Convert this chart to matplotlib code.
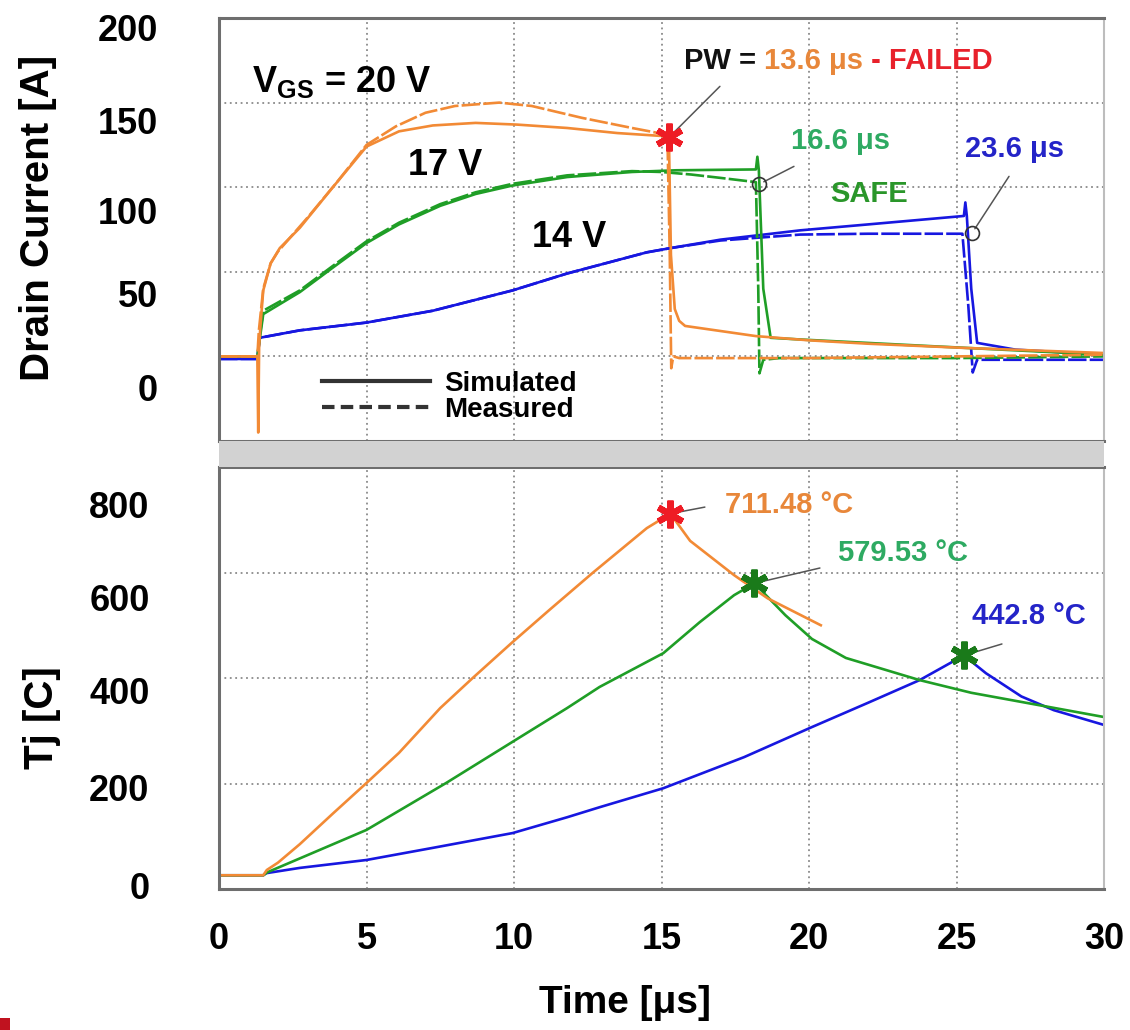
import matplotlib
matplotlib.use('Agg')
import matplotlib.pyplot as plt
from matplotlib.lines import Line2D
from matplotlib.patches import Rectangle

plt.rcParams['font.family'] = ['Liberation Sans', 'DejaVu Sans']
plt.rcParams['font.weight'] = 'bold'
plt.rcParams['axes.labelweight'] = 'bold'
plt.rcParams['mathtext.fontset'] = 'custom'
plt.rcParams['mathtext.rm'] = 'Liberation Sans:bold'
plt.rcParams['mathtext.bf'] = 'Liberation Sans:bold'
plt.rcParams['mathtext.it'] = 'Liberation Sans:bold'

# ---- drain current [A] vs time [us] ----
# VGS = 20 V (orange)
t_sim_20 = [0, 1.30, 1.33, 1.36, 1.40, 1.50, 1.75, 2.06, 2.74, 3.86, 5.0, 6.1, 7.25, 8.7, 10.1, 11.8,
            13.5, 15.25, 15.32, 15.45, 15.6, 15.8, 17.0, 18.2, 20.0, 22.0, 25.3, 30.0]
id_sim_20 = [0, 0, -45, 5, 17, 39, 55, 64, 76, 100, 124, 133, 136.5, 138, 137, 135,
             132, 130, 60, 28, 21, 18, 15, 12, 9.5, 7.5, 5, 2]
t_meas_20 = [0, 1.30, 1.35, 1.5, 1.75, 2.0, 3.0, 4.0, 5.0, 6.0, 7.0, 8.0, 9.5, 10.6, 12.3, 14.0,
             15.2, 15.28, 15.33, 15.4, 15.6, 20.0, 25.0, 30.0]
id_meas_20 = [0, 0, 15, 40, 55, 62, 82, 103, 125, 136, 144, 148, 150, 148, 141, 135,
              131, 60, -7, 0, -1, -1, 0, 1]

# VGS = 17 V (green)
t_sim_17 = [0, 1.30, 1.38, 1.5, 2.74, 3.9, 5.0, 6.1, 7.5, 8.7, 9.95, 11.8, 14.0, 15.5, 18.2, 18.25,
            18.3, 18.45, 18.7, 19.7, 24.2, 30.0]
id_sim_17 = [0, 0, 10, 25, 38, 53, 67, 78, 89, 96, 101, 106, 109, 110, 110.5, 118,
             110, 40, 11, 10, 6, 1]
t_meas_17 = [0, 1.30, 1.38, 1.5, 2.74, 3.9, 5.0, 6.1, 7.5, 8.7, 9.95, 11.8, 14.0, 15.0, 16.0, 17.0,
             18.2, 18.28, 18.32, 18.45, 19.0, 25.0, 30.0]
id_meas_17 = [0, 0, 12, 27, 39, 54, 68, 79, 90, 97, 102, 107, 109.5, 109, 107.5, 105.5,
              103, 40, -10, -2, -1, -1, 0]

# VGS = 14 V (blue)
t_sim_14 = [0, 1.30, 1.38, 2.74, 5.0, 7.25, 9.95, 11.8, 14.5, 15.3, 17.0, 19.7, 22.0, 25.25, 25.3,
            25.35, 25.5, 25.7, 27.0, 30.0]
id_sim_14 = [-1.5, -1.5, 11, 15.4, 20, 27, 39, 49, 61.5, 64, 69, 74.5, 78, 83, 91,
             83, 40, 8, 4, 1]
t_meas_14 = [0, 1.30, 1.38, 2.74, 5.0, 7.25, 9.95, 11.8, 14.5, 15.3, 17.0, 19.7, 22.0, 25.2, 25.4,
             25.55, 25.7, 30.0]
id_meas_14 = [-1.5, -1.5, 11, 15.4, 20, 27, 39, 49, 61.5, 64, 68.5, 72, 72.5, 72.5, 30,
              -9.5, -2, -2]

# end-of-pulse markers
pw_t = [15.25, 18.3, 25.52]
pw_id = [129.4, 101.7, 72.7]

# ---- junction temperature [C] vs time [us] ----
t_tj_20 = [0, 1.5, 1.62, 2.0, 2.74, 3.86, 5.0, 6.1, 7.5, 8.6, 9.95, 11.2, 12.66, 14.5, 15.3,
           15.97, 17.46, 18.6, 20.4]
tj_20 = [26, 26, 36, 50, 85, 143, 201, 258, 343, 400, 468, 529, 599, 684, 711.48,
         660, 595, 551, 500]
t_tj_17 = [0, 1.5, 1.65, 2.74, 5.0, 7.7, 9.95, 11.8, 12.9, 15.06, 16.3, 17.46, 18.15, 19.2, 20.1,
           21.25, 23.75, 25.5, 27.75, 30.0]
tj_17 = [26, 26, 32, 58, 112, 201, 279, 343, 383, 447, 506, 557, 579.53, 519, 474,
         438, 396, 372, 349, 326]
t_tj_14 = [0, 1.5, 1.6, 2.74, 5.0, 7.25, 9.95, 11.8, 12.9, 15.06, 17.8, 20.1, 22.0, 23.75, 25.25,
           26.0, 27.2, 28.3, 30.0]
tj_14 = [26, 26, 30, 40, 55, 78, 106, 136, 155, 191, 250, 307, 353, 396, 442.8,
         409, 365, 339, 311]

peak_t = [15.3, 18.15, 25.25]
peak_tj = [711.48, 579.53, 442.8]

ORANGE = '#F28A35'
GREEN = '#1F9E26'
BLUE = '#1717E0'

fig = plt.figure(figsize=(11.3, 10.3), dpi=100)
W, H = 1130, 1030
ax1 = fig.add_axes([219 / W, 1 - 441 / H, 885 / W, 423 / H])
ax2 = fig.add_axes([219 / W, 1 - 889 / H, 885 / W, 422 / H])

# grey separator between the two panels + small red corner mark
fig.patches.append(Rectangle((219 / W, 1 - 467 / H), 885 / W, 26 / H, transform=fig.transFigure,
                             facecolor='#d2d2d2', edgecolor='none', zorder=0))
fig.patches.append(Rectangle((0, 0), 10 / W, 12 / H, transform=fig.transFigure,
                             facecolor='#c0121f', edgecolor='none'))


def style(ax):
    ax.set_xlim(0, 30)
    ax.set_xticks([0, 5, 10, 15, 20, 25, 30])
    ax.grid(axis='x', which='major', color='#8a8a8a', linestyle=(0, (1, 2)), linewidth=1.3)
    ax.grid(axis='y', which='minor', color='#8a8a8a', linestyle=(0, (1, 2)), linewidth=1.3)
    ax.tick_params(which='both', length=0, labelsize=26)
    for s in ['left', 'top', 'bottom']:
        ax.spines[s].set_color('#6e6e6e')
        ax.spines[s].set_linewidth(2.2)
    ax.spines['right'].set_color('#bdbdbd')
    ax.spines['right'].set_linewidth(1.5)


# ---------------- top panel ----------------
style(ax1)
ax1.set_ylim(-50, 200)
ax1.set_yticks([0, 50, 100, 150], minor=True)
ax1.set_yticks([-18.3, 37.2, 86.3, 139.5, 194.4])
ax1.set_yticklabels(['0', '50', '100', '150', '200'])
ax1.tick_params(axis='y', pad=44)
ax1.tick_params(axis='x', labelbottom=False)

meas_ls = (0, (7, 1.2))
ax1.plot(t_meas_14, id_meas_14, color=BLUE, lw=1.9, ls=meas_ls)
ax1.plot(t_sim_14, id_sim_14, color=BLUE, lw=1.9)
ax1.plot(t_meas_17, id_meas_17, color=GREEN, lw=1.9, ls=meas_ls)
ax1.plot(t_sim_17, id_sim_17, color=GREEN, lw=1.9)
ax1.plot(t_meas_20, id_meas_20, color=ORANGE, lw=1.9, ls=meas_ls)
ax1.plot(t_sim_20, id_sim_20, color=ORANGE, lw=1.9)

ax1.plot(pw_t[0], pw_id[0], marker=(6, 2, 0), ms=20, mew=4.5, color='#EE1C25', zorder=5)
ax1.plot(pw_t[1:], pw_id[1:], 'o', ms=10, mfc='none', mec='#333333', mew=1.2, zorder=5)

ax1.set_ylabel('Drain Current [A]', fontsize=29)
ax1.yaxis.set_label_coords(-0.183, 0.527)

ax1.text(1.12, 156, r'V$_{\mathbf{GS}}$ = 20 V', fontsize=26, va='baseline')
ax1.text(6.4, 107, '17 V', fontsize=26, va='baseline')
ax1.text(10.6, 64.4, '14 V', fontsize=26, va='baseline')

t1 = ax1.text(15.76, 169.6, 'PW = ', fontsize=21, va='baseline', color='#111111')
t2 = ax1.annotate('13.6 μs', xy=(1, 0), xycoords=t1, va='bottom', fontsize=21, color='#E8873A')
ax1.annotate(' - FAILED', xy=(1, 0), xycoords=t2, va='bottom', fontsize=21, color='#E8212B')
ax1.text(19.39, 122.3, '16.6 μs', fontsize=21, va='baseline', color='#2EAA62')
ax1.text(20.71, 91, 'SAFE', fontsize=21, va='baseline', color='#2A962A')
ax1.text(25.29, 117.6, '23.6 μs', fontsize=21, va='baseline', color='#2424C8')

pw_ends = [(16.98, 159.6), (19.49, 112.3), (26.78, 106.4)]
for x, y, end in zip(pw_t, pw_id, pw_ends):
    ax1.annotate('', xy=(x, y), xytext=end,
                 arrowprops=dict(arrowstyle='-', color='#555555', lw=1.1, shrinkA=0, shrinkB=4))

handles = [Line2D([], [], color='#333333', lw=3),
           Line2D([], [], color='#333333', lw=3, ls=(0, (3, 1.5)))]
ax1.legend(handles, ['Simulated', 'Measured'], loc='upper left', bbox_to_anchor=(0.116, 0.165),
           frameon=False, fontsize=20, handlelength=3.9, handletextpad=0.5,
           labelspacing=0.0, borderpad=0, borderaxespad=0)

# ---------------- bottom panel ----------------
style(ax2)
ax2.set_ylim(0, 800)
ax2.set_yticks([200, 400, 600], minor=True)
ax2.set_yticks([6, 193, 377, 553.5, 728])
ax2.set_yticklabels(['0', '200', '400', '600', '800'])
ax2.tick_params(axis='y', pad=50)
ax2.tick_params(axis='x', pad=24)

ax2.plot(t_tj_14, tj_14, color=BLUE, lw=1.9)
ax2.plot(t_tj_17, tj_17, color=GREEN, lw=1.9)
ax2.plot(t_tj_20, tj_20, color=ORANGE, lw=1.9)

star_colors = ['#EE1C25', '#1A7A1A', '#1A7A1A']
for x, y, c in zip(peak_t, peak_tj, star_colors):
    ax2.plot(x, y, marker=(6, 2, 0), ms=20, mew=4.5, color=c, zorder=5)

ax2.text(17.15, 712.8, '711.48 °C', fontsize=21, va='baseline', color='#E8873A')
ax2.text(20.98, 622.4, '579.53 °C', fontsize=21, va='baseline', color='#2EAA62')
ax2.text(25.53, 502.4, '442.8 °C', fontsize=21, va='baseline', color='#2424C8')

peak_ends = [(16.47, 724), (20.37, 608.5), (26.54, 464.5)]
for x, y, end in zip(peak_t, peak_tj, peak_ends):
    ax2.annotate('', xy=(x, y), xytext=end,
                 arrowprops=dict(arrowstyle='-', color='#555555', lw=1.1, shrinkA=0, shrinkB=4))

ax2.set_ylabel('Tj [C]', fontsize=29)
ax2.yaxis.set_label_coords(-0.179, 0.405)
ax2.set_xlabel('Time [μs]', fontsize=28)
ax2.xaxis.set_label_coords(0.459, -0.227)

fig.savefig('out.png', dpi=100)
